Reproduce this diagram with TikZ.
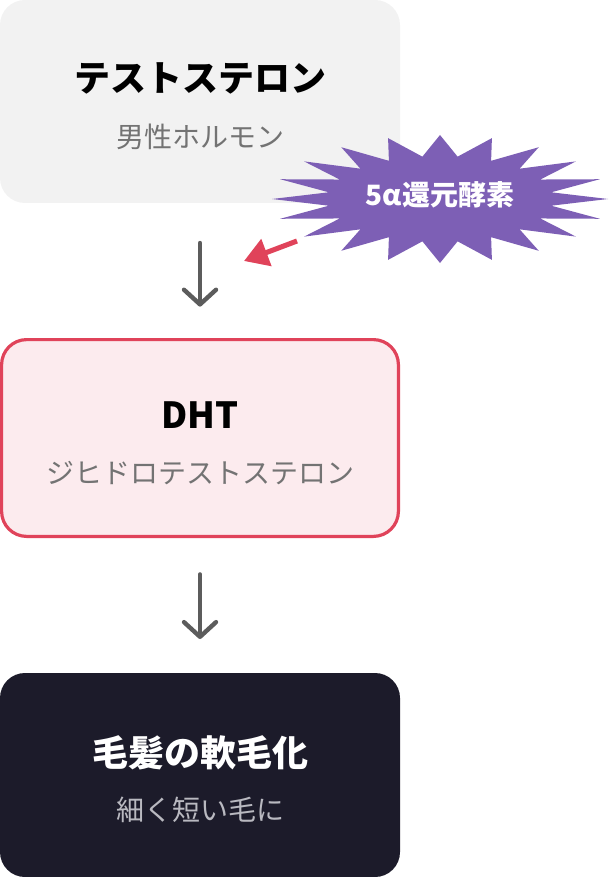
\documentclass[tikz,border=0pt]{standalone}
\usepackage{fontspec}
\setmainfont{Noto Sans CJK JP}
\usepackage{xcolor}
\definecolor{PaleGray}{HTML}{F2F2F2}
\definecolor{SubGray}{HTML}{737373}
\definecolor{ArrowGray}{HTML}{5C5C5C}
\definecolor{AlertRed}{HTML}{E0435A}
\definecolor{LightRose}{HTML}{FCEBEE}
\definecolor{NightInk}{HTML}{1C1B2A}
\definecolor{MistGray}{HTML}{B9B9C0}
\definecolor{EnzymePurple}{HTML}{7D5FB5}
\usetikzlibrary{arrows.meta,positioning}

\begin{document}
\begin{tikzpicture}[
  x=0.75pt, y=-0.75pt,
  box/.style={
    rectangle, rounded corners=18.75pt,
    minimum width=300pt, minimum height=152.25pt,
    inner sep=0pt, outer sep=0pt, anchor=north west,
  },
  plain/.style={box, fill=PaleGray},
  alert/.style={box, fill=LightRose, draw=AlertRed, line width=2.4pt,
                minimum width=297.6pt, minimum height=147.6pt},
  dark/.style={box, fill=NightInk, minimum height=153pt},
  title/.style={font=\bfseries\fontsize{27}{32}\selectfont, inner sep=0pt},
  sub/.style={font=\fontsize{21}{25}\selectfont, text=SubGray, inner sep=0pt},
  flow/.style={-{Straight Barb[length=11pt,width=24pt,round]}, line width=3.3pt,
               color=ArrowGray, line cap=round},
  hit/.style={-{Triangle[length=18pt,width=21pt]}, line width=3.8pt, color=AlertRed},
  burst/.style={fill=EnzymePurple},
]
  \useasboundingbox (0,0) rectangle (611,877);

  % boxes
  \node[plain] (testo) at (0,0) {};
  \node[alert] (dht)   at (1.6,339.6) {};
  \node[dark]  (fine)  at (0,673) {};

  \node[title]               (testoT) at ([yshift=17.25pt]testo.center) {テストステロン};
  \node[sub]                 (testoS) at ([yshift=-26.25pt]testo.center) {男性ホルモン};
  \node[title]               (dhtT)   at ([yshift=16.9pt]dht.center) {DHT};
  \node[sub]                 (dhtS)   at ([yshift=-26.25pt]dht.center) {ジヒドロテストステロン};
  \node[title, text=white]   (fineT)  at ([yshift=16.9pt]fine.center) {毛髪の軟毛化};
  \node[sub, text=MistGray]  (fineS)  at ([yshift=-26.25pt]fine.center) {細く短い毛に};

  % enzyme burst
  \fill[burst] ({440+168},199)
    \foreach \i in {0,...,19}{
      -- ({440+168*0.67*cos(18*\i+9)},{199+64*0.67*sin(18*\i+9)})
      -- ({440+168*cos(18*\i+18)},{199+64*sin(18*\i+18)})
    } -- cycle;
  \node[font=\bfseries\fontsize{21}{25}\selectfont, text=white, inner sep=0pt]
    (enzyme) at (440,195) {5α還元酵素};

  \coordinate (burstfoot) at (297,241);
  \coordinate (target)    at (244,261);

  \draw[flow, shorten <=30pt, shorten >=24.75pt] (testo) -- (dht);
  \draw[flow, shorten <=28.5pt, shorten >=25.5pt] (dht) -- (fine);
  \draw[hit] (burstfoot) -- (target);
\end{tikzpicture}
\end{document}
